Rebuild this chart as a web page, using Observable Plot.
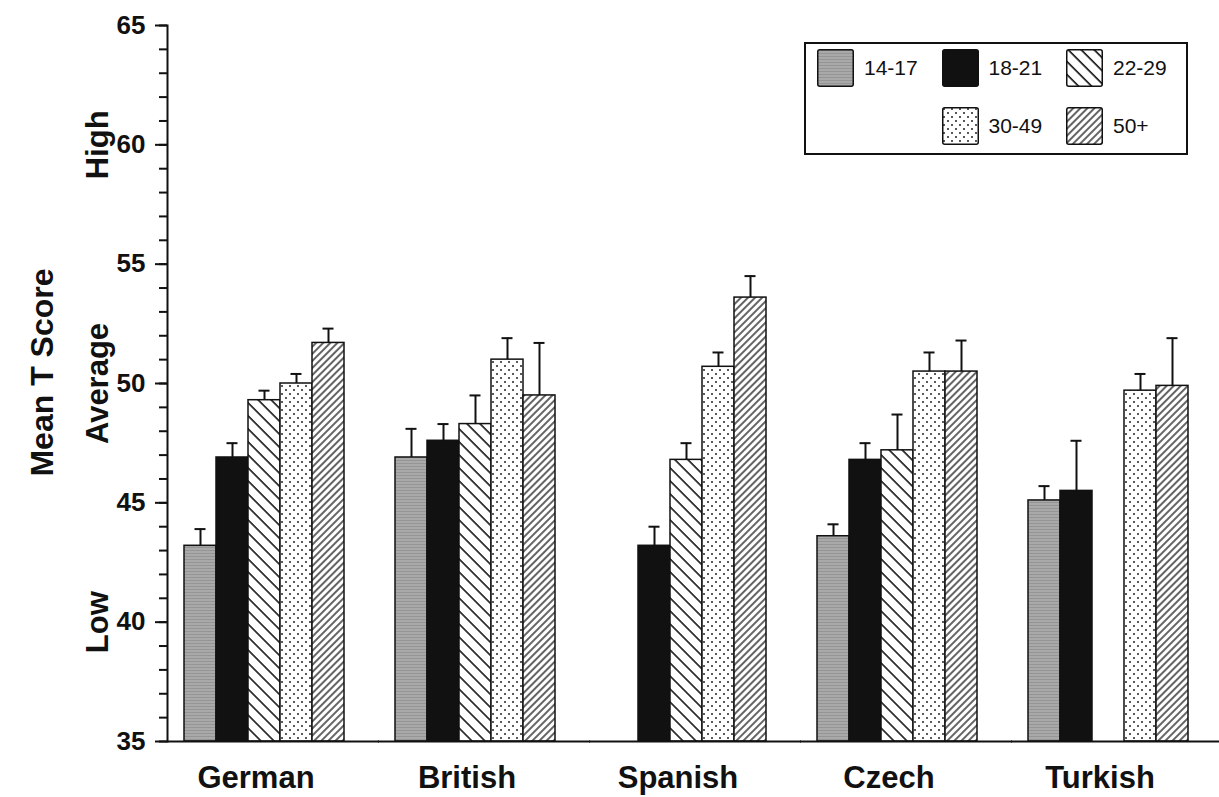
<!DOCTYPE html>
<html>
<head>
<meta charset="utf-8">
<script src="https://cdn.jsdelivr.net/npm/d3@7"></script>
<script src="https://cdn.jsdelivr.net/npm/@observablehq/plot@0.6"></script>
<style>
  html, body { margin: 0; padding: 0; background: #fff; }
  #wrap { position: relative; width: 1219px; height: 797px; font-family: "Liberation Sans", Arial, sans-serif; }
  #legend { position: absolute; left: 804px; top: 42px; width: 380px; height: 109px; border: 2px solid #111; background: #fff; }
  .li { position: absolute; display: flex; align-items: center; }
  .lt { margin-left: 10px; font-size: 21px; color: #111; }
</style>
</head>
<body>
<svg style="position:absolute;width:0;height:0" aria-hidden="true">
  <defs>
    <pattern id="pat1417" width="4" height="3" patternUnits="userSpaceOnUse">
      <rect width="4" height="3" fill="#a9a9a9"></rect>
      <rect y="1" width="4" height="1" fill="#959595"></rect>
    </pattern>
    <pattern id="pat1821" width="4" height="4" patternUnits="userSpaceOnUse">
      <rect width="4" height="4" fill="#111"></rect>
    </pattern>
    <pattern id="pat2229" width="9.2" height="10" patternUnits="userSpaceOnUse" patternTransform="rotate(-45)">
      <rect width="9.2" height="10" fill="#fff"></rect>
      <line x1="1" y1="0" x2="1" y2="10" stroke="#111" stroke-width="1.6"></line>
    </pattern>
    <pattern id="pat3049" width="8" height="8" patternUnits="userSpaceOnUse">
      <rect width="8" height="8" fill="#fff"></rect>
      <circle cx="2" cy="2" r="1" fill="#222"></circle>
      <circle cx="6" cy="6" r="1" fill="#222"></circle>
    </pattern>
    <pattern id="pat50" width="5" height="10" patternUnits="userSpaceOnUse" patternTransform="rotate(45)">
      <rect width="5" height="10" fill="#fff"></rect>
      <line x1="1" y1="0" x2="1" y2="10" stroke="#111" stroke-width="1.3"></line>
    </pattern>
  </defs>
</svg>
<div id="wrap">
  <div id="chart"></div>
  <div id="legend"></div>
</div>
<script>
// ---- data ----
const countries = ["German", "British", "Spanish", "Czech", "Turkish"];
const ages = ["14-17", "18-21", "22-29", "30-49", "50+"];
const mean_14_17 = [43.2, 46.9, null, 43.6, 45.1];
const mean_18_21 = [46.9, 47.6, 43.2, 46.8, 45.5];
const mean_22_29 = [49.3, 48.3, 46.8, 47.2, null];
const mean_30_49 = [50.0, 51.0, 50.7, 50.5, 49.7];
const mean_50_plus = [51.7, 49.5, 53.6, 50.5, 49.9];
const err_14_17 = [0.7, 1.2, null, 0.5, 0.6];
const err_18_21 = [0.6, 0.7, 0.8, 0.7, 2.1];
const err_22_29 = [0.4, 1.2, 0.7, 1.5, null];
const err_30_49 = [0.4, 0.9, 0.6, 0.8, 0.7];
const err_50_plus = [0.6, 2.2, 0.9, 1.3, 2.0];
const yDomain = [35, 65];
const yTicks = [35, 40, 45, 50, 55, 60, 65];
const levelLabels = ["Low", "Average", "High"];
const levelValues = [40, 50, 60];
const yTitleParts = ["Mean ", "T", " Score"];
const patterns = ["url(#pat1417)", "url(#pat1821)", "url(#pat2229)", "url(#pat3049)", "url(#pat50)"];

// ---- table built from arrays ----
const meanSeries = [mean_14_17, mean_18_21, mean_22_29, mean_30_49, mean_50_plus];
const errSeries = [err_14_17, err_18_21, err_22_29, err_30_49, err_50_plus];
const rows = [];
countries.forEach((c, ci) => {
  ages.forEach((a, ai) => {
    const m = meanSeries[ai][ci];
    if (m != null) rows.push({country: c, age: a, mean: m, hi: m + errSeries[ai][ci]});
  });
});
const levels = levelLabels.map((t, i) => ({t, v: levelValues[i]}));
const minorTicks = d3.range(yDomain[0], yDomain[1] + 1, 1);

const chart = Plot.plot({
  width: 1219,
  height: 797,
  marginTop: 25,
  marginBottom: 56,
  marginLeft: 167,
  marginRight: 0,
  style: {fontFamily: "'Liberation Sans', Arial, sans-serif", fontWeight: "bold", color: "#111", background: "#fff"},
  fx: {domain: countries, paddingInner: 0.1627, paddingOuter: 0.0684, align: 0, label: null},
  x: {domain: ages, paddingInner: 0, paddingOuter: 0.2263, align: 1, axis: null},
  y: {domain: yDomain},
  color: {domain: ages, range: patterns},
  marks: [
    Plot.barY(rows, {fx: "country", x: "age", y1: () => yDomain[0], y2: "mean", fill: "age", stroke: "#111", strokeWidth: 1.5}),
    Plot.ruleX(rows, {fx: "country", x: "age", y1: "mean", y2: "hi", stroke: "#111", strokeWidth: 2}),
    Plot.tickY(rows, {fx: "country", x: "age", y: "hi", insetLeft: 10.5, insetRight: 10.5, stroke: "#111", strokeWidth: 2}),
    Plot.ruleY([yDomain[0]], {insetRight: -35, stroke: "#111", strokeWidth: 2}),
    Plot.frame({anchor: "left", facetAnchor: "left", stroke: "#111", strokeWidth: 2}),
    Plot.axisY({ticks: minorTicks, tickSize: 8, tickFormat: () => "", strokeWidth: 2, label: null}),
    Plot.axisY({ticks: yTicks, tickSize: 12, tickPadding: 10, fontSize: 26, fontWeight: "bold", strokeWidth: 2, label: null}),
    Plot.axisFx({anchor: "bottom", tickSize: 0, tickPadding: 24, fontSize: 31, fontWeight: "bold", label: null}),
    Plot.text(levels, {y: "v", text: "t", frameAnchor: "left", dx: -69, rotate: -90, textAnchor: "middle", lineAnchor: "middle", fontSize: 31, fontWeight: "bold", facetAnchor: "left", ariaLabel: "levels"}),
    Plot.text([yTitleParts.join("")], {text: d => d, frameAnchor: "left", dx: -125, dy: -11, rotate: -90, textAnchor: "middle", lineAnchor: "middle", fontSize: 32, fontWeight: "bold", facetAnchor: "left", ariaLabel: "ytitle"})
  ]
});
document.getElementById("chart").appendChild(chart);

// condensed look of rotated labels
const ns = "http://www.w3.org/2000/svg";
chart.querySelectorAll('g[aria-label="levels"] text, g[aria-label="ytitle"] text').forEach(el => {
  const t = el.getAttribute("transform") || "";
  el.setAttribute("transform", (t + " scale(1,0.72)").trim());
});
// italic T in the axis title
chart.querySelectorAll('g[aria-label="ytitle"] text').forEach(el => {
  while (el.firstChild) el.removeChild(el.firstChild);
  yTitleParts.forEach((p, i) => {
    const ts = document.createElementNS(ns, "tspan");
    ts.textContent = p;
    if (i === 1) { ts.setAttribute("font-style", "italic"); ts.style.fontStyle = "italic"; }
    el.appendChild(ts);
  });
});

// legend
const legend = document.getElementById("legend");
const slots = [[0, 0], [1, 0], [2, 0], [1, 1], [2, 1]];
ages.forEach((a, i) => {
  const [col, row] = slots[i];
  const item = document.createElement("div");
  item.className = "li";
  item.style.left = (11 + col * 124.5) + "px";
  item.style.top = (5 + row * 58) + "px";
  const sw = document.createElementNS(ns, "svg");
  sw.setAttribute("width", 37); sw.setAttribute("height", 38);
  const r = document.createElementNS(ns, "rect");
  r.setAttribute("x", 0.75); r.setAttribute("y", 0.75); r.setAttribute("width", 35.5); r.setAttribute("height", 36.5);
  r.setAttribute("rx", 2);
  r.setAttribute("fill", patterns[i]); r.setAttribute("stroke", "#111"); r.setAttribute("stroke-width", 1.5);
  sw.appendChild(r);
  const lt = document.createElement("span");
  lt.className = "lt";
  lt.textContent = a;
  item.append(sw, lt);
  legend.appendChild(item);
});
</script>
</body>
</html>
